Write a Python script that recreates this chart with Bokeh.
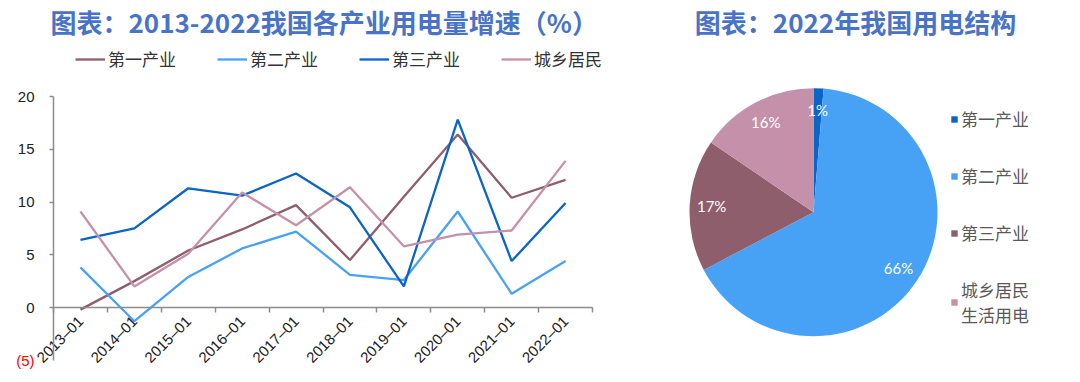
import numpy as np
from math import pi
from bokeh.plotting import figure
from bokeh.models import (Range1d, FixedTicker, LinearAxis, Legend, LegendItem,
                          ColumnDataSource, Label)
from bokeh.layouts import row
from bokeh.embed import file_html
from bokeh.resources import INLINE
from bokeh.core.properties import value

# ---------------- data ----------------
years = ["2013–01", "2014–01", "2015–01", "2016–01", "2017–01",
         "2018–01", "2019–01", "2020–01", "2021–01", "2022–01"]
primary = [-0.2, 2.5, 5.4, 7.4, 9.7, 4.5, 10.5, 16.4, 10.4, 12.1]
secondary = [3.8, -1.3, 2.9, 5.6, 7.2, 3.1, 2.6, 9.1, 1.3, 4.4]
tertiary = [6.4, 7.5, 11.3, 10.6, 12.7, 9.5, 2.0, 17.8, 4.4, 9.9]
residential = [9.1, 2.0, 5.1, 10.9, 7.8, 11.4, 5.8, 6.9, 7.3, 13.9]
series_names = ["第一产业", "第二产业", "第三产业", "城乡居民"]
y_ticks = [0, 5, 10, 15, 20]
y_min, y_max = -5, 20

pie_cats = ["第一产业", "第二产业", "第三产业", "城乡居民\n生活用电"]
pie_share = [1.3, 66.0, 17.2, 15.5]
pie_labels = ["1%", "66%", "17%", "16%"]

title_left = "图表：2013-2022我国各产业用电量增速（%）"
title_right = "图表：2022年我国用电结构"

# ---------------- styles ----------------
C_DBLUE = "#0b64c6"
C_LBLUE = "#47a2f6"
C_BROWN = "#8f5e6d"
C_PINK = "#c591aa"
TITLE_C = "#4873c6"
CJK = "Noto Sans CJK SC"
H = 374
W1, W2 = 628, 436

# ---------------- line chart ----------------
n = len(years)
xs = list(range(n))
# layout: plot area spans x from px 53 to 592, y=0 at px 307, y=20 at px 96
px_x = (592 - 53) / n
px_y = (307 - 96) / (y_max - 0)
x0 = -0.5 - 53 / px_x
y0 = -(H - 307) / px_y
p = figure(width=W1, height=H,
           x_range=Range1d(x0, x0 + W1 / px_x),
           y_range=Range1d(y0, y0 + H / px_y),
           output_backend="svg", toolbar_location=None,
           x_axis_type=None, y_axis_type=None,
           min_border_left=0, min_border_right=0, min_border_top=0, min_border_bottom=0)
p.outline_line_color = None
p.xgrid.visible = False
p.ygrid.visible = False

p.add_layout(Label(x=50, y=H - 21, x_units="screen", y_units="screen", text=title_left,
                   text_font=CJK, text_font_size="26px", text_font_style="bold",
                   text_color=TITLE_C, text_align="left", text_baseline="middle"))

xaxis = LinearAxis(fixed_location=0, bounds=(-0.5, n - 0.5),
                   ticker=FixedTicker(ticks=xs, minor_ticks=[i - 0.5 for i in range(n + 1)]),
                   major_label_overrides={i: years[i] for i in xs})
xaxis.axis_line_color = "#8c8c8c"
xaxis.axis_line_width = 1.5
xaxis.major_tick_line_color = None
xaxis.major_tick_out = 0
xaxis.major_tick_in = 0
xaxis.minor_tick_line_color = "#8c8c8c"
xaxis.minor_tick_line_width = 1.5
xaxis.minor_tick_out = 5
xaxis.minor_tick_in = 0
xaxis.major_label_orientation = pi / 4
xaxis.major_label_text_font = "Liberation Sans"
xaxis.major_label_text_font_size = "15px"
xaxis.major_label_text_color = "#222222"
xaxis.major_label_standoff = 6
p.add_layout(xaxis, "below")

yaxis = LinearAxis(fixed_location=-0.5, bounds=(y_min, y_max),
                   ticker=FixedTicker(ticks=y_ticks, minor_ticks=[]))
yaxis.axis_line_color = "#8c8c8c"
yaxis.axis_line_width = 1.5
yaxis.major_tick_line_color = "#8c8c8c"
yaxis.major_tick_line_width = 1.5
yaxis.major_tick_out = 4
yaxis.major_tick_in = 0
yaxis.major_label_text_font = "Liberation Sans"
yaxis.major_label_text_font_size = "15px"
yaxis.major_label_text_color = "#222222"
yaxis.major_label_standoff = 15
p.add_layout(yaxis, "left")

yneg = LinearAxis(ticker=FixedTicker(ticks=[y_min], minor_ticks=[]), fixed_location=-0.5,
                  major_label_overrides={y_min: "(5)"})
yneg.axis_line_color = None
yneg.major_tick_line_color = None
yneg.major_tick_out = 4
yneg.major_tick_in = 0
yneg.major_label_text_font = "Liberation Sans"
yneg.major_label_text_font_size = "15px"
yneg.major_label_text_color = "#ff0000"
yneg.major_label_standoff = 15
p.add_layout(yneg, "left")

renderers = []
for vals, col in zip([primary, secondary, tertiary, residential],
                     [C_BROWN, C_LBLUE, C_DBLUE, C_PINK]):
    r = p.line(xs, vals, line_color=col, line_width=2.3)
    renderers.append(r)

leg = Legend(items=[LegendItem(label=s, renderers=[r]) for s, r in zip(series_names, renderers)],
             orientation="horizontal", location=(75, H - 59 - 12))
leg.glyph_width = 30
leg.glyph_height = 20
leg.label_height = 20
leg.label_standoff = 3
leg.spacing = 41
leg.padding = 0
leg.margin = 0
leg.border_line_color = None
leg.background_fill_alpha = 0
leg.label_text_font = CJK
leg.label_text_font_size = "17px"
leg.label_text_color = "#333333"
p.add_layout(leg)

# ---------------- pie chart ----------------
q = figure(width=W2, height=H, x_range=Range1d(0, W2), y_range=Range1d(0, H),
           output_backend="svg", toolbar_location=None, x_axis_type=None, y_axis_type=None,
           min_border_left=0, min_border_right=0, min_border_top=0, min_border_bottom=0)
q.outline_line_color = None
q.xgrid.visible = False
q.ygrid.visible = False
q.add_layout(Label(x=227, y=H - 21, x_units="screen", y_units="screen", text=title_right,
                   text_font=CJK, text_font_size="26px", text_font_style="bold",
                   text_color=TITLE_C, text_align="center", text_baseline="middle"))

share = np.array(pie_share, dtype=float)
frac = share / share.sum()
cum = np.cumsum(frac)
prev = cum - frac
start = pi / 2 - prev * 2 * pi
end = pi / 2 - cum * 2 * pi
mid = (start + end) / 2
cx, cy, R, rl = 185, H - 211.7, 124, 102
src = ColumnDataSource(dict(start=start, end=end, color=[C_DBLUE, C_LBLUE, C_BROWN, C_PINK],
                            cat=pie_cats, lab=pie_labels,
                            lx=cx + rl * np.cos(mid), ly=cy + rl * np.sin(mid)))
w = q.wedge(x=cx, y=cy, radius=R, radius_units="screen", start_angle="start", end_angle="end",
            direction="clock", fill_color="color", line_color=None, source=src)
q.text(x="lx", y="ly", text="lab", source=src, text_color="white", text_align="center",
       text_baseline="middle", text_font=value("Lato"), text_font_size="15px")

pleg = Legend(items=[LegendItem(label=c, renderers=[w], index=i) for i, c in enumerate(pie_cats)],
              location=(322, 47))
pleg.glyph_width = 8
pleg.glyph_height = 8
pleg.label_height = 20
pleg.label_standoff = 3
pleg.spacing = 32
pleg.padding = 0
pleg.margin = 0
pleg.border_line_color = None
pleg.background_fill_alpha = 0
pleg.label_text_font = CJK
pleg.label_text_font_size = "17px"
pleg.label_text_color = "#595959"
q.add_layout(pleg)

layout = row(p, q)
open("out.html", "w").write(file_html(layout, INLINE))
